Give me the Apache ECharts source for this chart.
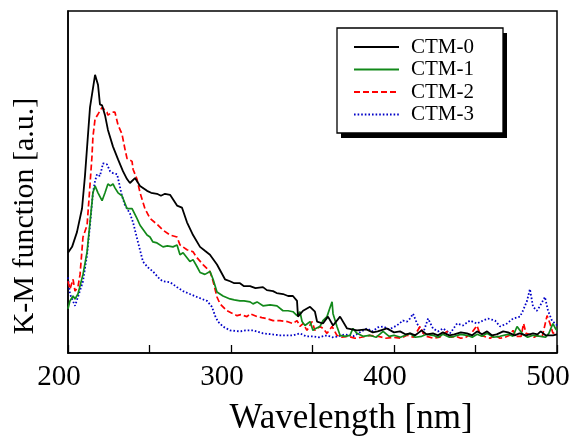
<!DOCTYPE html>
<html>
<head>
<meta charset="utf-8">
<script src="https://cdn.jsdelivr.net/npm/echarts@6/dist/echarts.min.js"></script>
<style>html,body{margin:0;padding:0;background:#fff}#c{width:573px;height:441px}</style>
</head>
<body>
<div id="c"></div>
<script>
const seriesNames = ['CTM-0', 'CTM-1', 'CTM-2', 'CTM-3'];
const xTicks = [200, 300, 400, 500];

const ctm0 = [[200,1.02],[202.5,1.08],[205.5,1.23],[208.6,1.47],[210.4,1.80],[213.5,2.50],[216.6,2.83],[218.4,2.73],[219.6,2.53],[220.9,2.52],[222.7,2.42],[224.5,2.27],[227.6,2.10],[230.7,1.97],[233.7,1.85],[236.2,1.77],[238.0,1.73],[241.1,1.78],[244.2,1.70],[248.5,1.65],[251,1.63],[254.6,1.62],[257,1.60],[259.5,1.62],[262.6,1.61],[266.9,1.50],[269.9,1.48],[273.0,1.33],[276.7,1.20],[281.0,1.08],[284,1.04],[287.1,1.00],[291.4,0.90],[296.3,0.75],[299.4,0.73],[302,0.71],[305.5,0.71],[308,0.68],[311.7,0.68],[315,0.66],[319.6,0.67],[322,0.64],[325.8,0.63],[328,0.61],[331.9,0.60],[335,0.58],[338.0,0.58],[340.5,0.53],[341.1,0.37],[344.2,0.43],[348.5,0.47],[351.5,0.42],[352.8,0.32],[356.4,0.30],[359.5,0.37],[362.6,0.28],[366.9,0.37],[371.2,0.25],[377.3,0.23],[383,0.24],[387,0.21],[390,0.22],[395.7,0.25],[400,0.21],[403.7,0.22],[407,0.19],[410,0.20],[413,0.18],[417,0.23],[420,0.19],[423.9,0.20],[427,0.18],[430,0.21],[434,0.18],[437,0.19],[441,0.21],[444.8,0.20],[448,0.18],[451,0.22],[454,0.19],[457.1,0.22],[460,0.18],[463,0.19],[467,0.22],[470,0.21],[474,0.18],[477,0.20],[481,0.18],[485.3,0.20],[488,0.19],[490,0.22],[493,0.18],[497.5,0.18],[500,0.19]];

const ctm1 = [[200,0.45],[201.2,0.53],[203.1,0.58],[204.3,0.55],[206.1,0.60],[209.2,0.80],[211.7,1.03],[213.5,1.33],[215.3,1.63],[216.6,1.70],[218.4,1.63],[220.9,1.55],[222.7,1.63],[224.5,1.72],[226,1.70],[227.6,1.72],[228.8,1.68],[230.7,1.63],[233.1,1.60],[236.2,1.47],[239.3,1.47],[242.3,1.37],[244.2,1.30],[248.5,1.20],[250.3,1.18],[252.1,1.13],[254.6,1.12],[258.3,1.08],[261,1.09],[264.4,1.08],[266.9,1.10],[268.7,1.00],[270.6,1.02],[273.0,0.97],[274.8,0.93],[276.7,0.95],[279.1,0.88],[281.0,0.82],[284.0,0.80],[287.1,0.83],[289.0,0.75],[291.4,0.62],[295.1,0.58],[299.4,0.55],[302,0.54],[305.5,0.53],[308,0.53],[311.7,0.52],[313.5,0.50],[316.0,0.52],[319.6,0.48],[324,0.49],[328.2,0.48],[331.9,0.43],[335,0.43],[338.0,0.42],[340.5,0.38],[342.3,0.42],[343.6,0.32],[345.4,0.28],[348.5,0.32],[350.3,0.23],[352,0.25],[354.6,0.27],[356.4,0.33],[358.9,0.37],[360.5,0.45],[362.0,0.52],[362.6,0.40],[365.0,0.27],[366.9,0.18],[370,0.17],[373.0,0.18],[374.8,0.25],[377.3,0.20],[381,0.17],[385,0.18],[389,0.16],[393.3,0.22],[397,0.17],[400,0.18],[404,0.16],[409.8,0.20],[413,0.16],[417,0.17],[420,0.19],[423.9,0.18],[427,0.16],[430,0.19],[434,0.16],[437,0.17],[441,0.19],[444.8,0.18],[448,0.16],[451,0.19],[454,0.17],[457.1,0.20],[461,0.16],[465,0.17],[470,0.19],[473,0.17],[475.5,0.27],[479,0.19],[482,0.16],[485.3,0.18],[490,0.17],[493,0.16],[495,0.20],[497.5,0.30],[499,0.25],[500,0.23]];

const ctm2 = [[200,0.73],[201.2,0.65],[203.1,0.75],[204.3,0.63],[206.1,0.67],[207.4,0.80],[209.2,1.18],[211.7,1.30],[212.9,1.57],[214.7,2.00],[215.3,2.20],[216.6,2.38],[218.4,2.43],[220.9,2.50],[221.5,2.52],[223.9,2.45],[224.5,2.42],[227.0,2.45],[228.8,2.45],[230.7,2.32],[233.1,2.23],[235.0,2.07],[236.2,1.98],[239.3,1.95],[239.9,1.87],[242.3,1.77],[244.2,1.63],[247.2,1.47],[250.3,1.37],[254.6,1.31],[258.3,1.25],[262.6,1.20],[266.9,1.18],[268.7,1.10],[273.0,1.05],[276.7,1.03],[279.1,0.97],[282.8,0.90],[287.1,0.83],[289.0,0.73],[291.4,0.57],[293.3,0.50],[297.5,0.43],[300,0.41],[303.7,0.38],[306,0.39],[309.8,0.37],[311.7,0.40],[316.0,0.37],[319,0.36],[322.1,0.35],[325.8,0.33],[330,0.33],[334.4,0.32],[338.0,0.30],[340.5,0.33],[342.3,0.27],[344.2,0.30],[346.6,0.23],[349.7,0.32],[351.5,0.23],[354.6,0.27],[356.4,0.25],[358.9,0.20],[362.0,0.27],[365.0,0.18],[368,0.16],[372,0.17],[376,0.15],[380,0.16],[385,0.18],[390,0.17],[395,0.15],[400,0.16],[404,0.15],[408,0.18],[412,0.16],[416.0,0.27],[418,0.20],[420,0.17],[424,0.15],[428,0.16],[432.5,0.22],[435,0.16],[438,0.17],[441,0.15],[444,0.16],[447,0.19],[450.9,0.28],[453,0.18],[455,0.17],[459,0.15],[462,0.18],[465,0.15],[468,0.16],[471,0.18],[473.0,0.23],[475,0.17],[478,0.17],[479.5,0.30],[481,0.20],[483,0.19],[486,0.16],[488,0.18],[491,0.17],[493.9,0.38],[495.7,0.30],[497.5,0.20],[500,0.22]];

const ctm3 = [[200,0.77],[201.2,0.60],[204.3,0.48],[206.1,0.57],[209.2,0.73],[211.7,1.00],[213.5,1.30],[215.3,1.63],[216.6,1.75],[217.8,1.82],[219.6,1.80],[221.5,1.93],[223.9,1.92],[225.8,1.85],[227.6,1.83],[230.1,1.82],[233.1,1.60],[235.0,1.50],[238.0,1.42],[239.9,1.33],[242.9,1.13],[246.0,0.93],[249.1,0.87],[252.1,0.83],[256.4,0.75],[258.3,0.73],[262.6,0.72],[266.9,0.67],[270.6,0.63],[274.8,0.60],[279.1,0.57],[285.3,0.53],[288.3,0.47],[290.2,0.38],[292.0,0.32],[295,0.27],[299.4,0.23],[305.5,0.22],[309,0.23],[313.5,0.23],[319.6,0.20],[325,0.19],[330.1,0.18],[338.0,0.18],[342.3,0.20],[346,0.17],[350.3,0.17],[354,0.16],[358.9,0.18],[362,0.16],[366,0.17],[370,0.19],[375,0.17],[379,0.21],[383.4,0.25],[387,0.22],[390,0.26],[393.3,0.27],[397,0.24],[401.8,0.28],[405.5,0.33],[408.0,0.32],[409.8,0.35],[411.7,0.40],[414.1,0.30],[417.8,0.20],[420.9,0.35],[423.9,0.25],[427,0.22],[430.1,0.25],[434.4,0.20],[438.7,0.30],[442.3,0.28],[446.6,0.33],[450.9,0.30],[454.6,0.33],[457.7,0.35],[462.0,0.33],[465.0,0.27],[469.3,0.30],[473.0,0.35],[477.3,0.37],[479.1,0.43],[481.6,0.53],[483.4,0.65],[485.3,0.47],[487.7,0.43],[489.6,0.48],[492.6,0.57],[494.5,0.43],[496.9,0.33],[498.8,0.30],[500,0.28]];

const colors = ['#000000', '#12891a', '#ff0000', '#0000c8'];
const lineTypes = ['solid', 'solid', [6, 3], [1.6, 2]];
const widths = [1.8, 1.7, 1.7, 1.8];
const allData = [ctm0, ctm1, ctm2, ctm3];

const FONT = '"Liberation Serif", "Times New Roman", serif';
const chart = echarts.init(document.getElementById('c'), null, { renderer: 'canvas' });

chart.setOption({
  animation: false,
  backgroundColor: '#ffffff',
  grid: {
    left: 68, top: 11, right: 16, bottom: 81,
    show: true, borderColor: '#000', borderWidth: 1.5, backgroundColor: 'transparent'
  },
  graphic: [
    { type: 'rect', z: 50, silent: true, shape: { x: 341, y: 33, width: 166, height: 105 }, style: { fill: '#000' } },
    { type: 'rect', z: 51, silent: true, shape: { x: 337, y: 28, width: 166, height: 105 }, style: { fill: '#fff', stroke: '#000', lineWidth: 1.3 } }
  ],
  legend: {
    orient: 'vertical',
    left: 337, top: 28, z: 60,
    data: seriesNames,
    itemWidth: 45, itemHeight: 14, itemGap: 1.5,
    padding: [8.5, 31, 8.5, 16],
    itemStyle: { opacity: 0 },
    textStyle: { fontFamily: FONT, fontSize: 21, color: '#000', lineHeight: 21, padding: [0, 0, 0, 7] }
  },
  xAxis: {
    type: 'value', min: 200, max: 500, interval: 50,
    name: 'Wavelength [nm]', nameLocation: 'middle', nameGap: 48,
    nameTextStyle: { fontFamily: FONT, fontSize: 35, color: '#000', padding: [0, 0, 0, 77] },
    axisLine: { show: true, lineStyle: { color: '#000', width: 1.5 } },
    axisTick: { show: true, inside: true, length: 8, lineStyle: { color: '#000', width: 1.3 } },
    splitLine: { show: false },
    axisLabel: {
      fontFamily: FONT, fontSize: 29, color: '#000', margin: 10, padding: [0, 18, 0, 0],
      formatter: v => (xTicks.indexOf(v) >= 0 ? String(v) : '')
    }
  },
  yAxis: {
    type: 'value', min: 0, max: 3.48,
    name: 'K-M function [a.u.]', nameLocation: 'middle', nameGap: 28, nameRotate: 90,
    nameTextStyle: { fontFamily: FONT, fontSize: 30, color: '#000', padding: [0, 68, 0, 0] },
    axisLine: { show: true, lineStyle: { color: '#000', width: 1.5 } },
    axisTick: { show: false },
    axisLabel: { show: false },
    splitLine: { show: false }
  },
  series: seriesNames.map((n, i) => ({
    name: n, type: 'line', data: allData[i],
    showSymbol: false, symbol: 'none', smooth: false,
    z: 10 - i,
    lineStyle: { color: colors[i], width: widths[i], type: lineTypes[i] },
    itemStyle: { color: colors[i] }
  }))
});
</script>
</body>
</html>
